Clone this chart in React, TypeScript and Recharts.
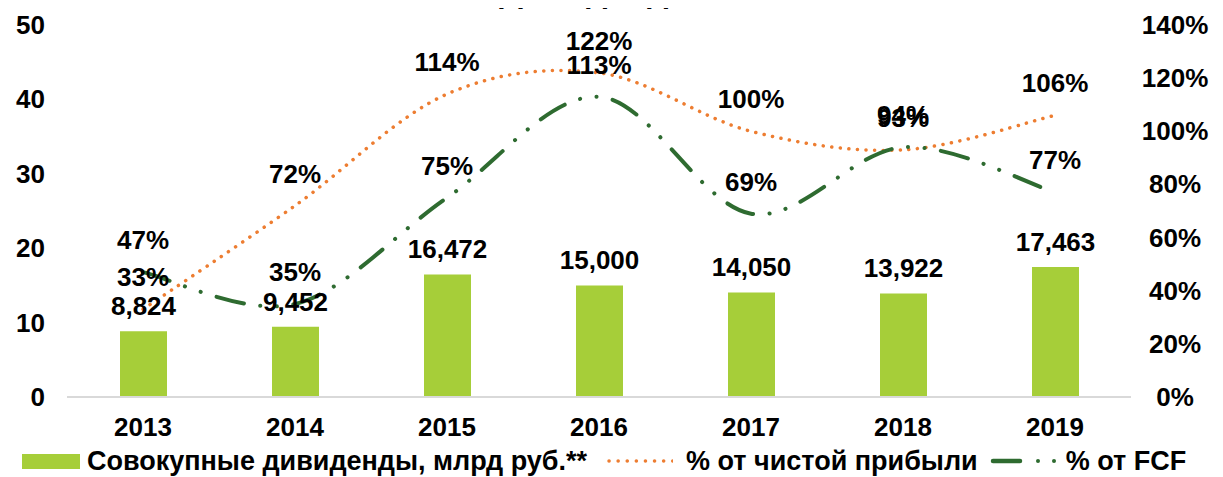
import {
  ComposedChart,
  Bar,
  Line,
  XAxis,
  YAxis,
  LabelList,
  Legend,
} from 'recharts'

const years = ['2013', '2014', '2015', '2016', '2017', '2018', '2019']
// billion rub, shown with a comma as decimal mark
const dividends = [8.824, 9.452, 16.472, 15.0, 14.05, 13.922, 17.463]
const netProfitPct = [33, 72, 114, 122, 100, 93, 106]
const fcfPct = [47, 35, 75, 113, 69, 94, 77]
const leftTicks = [0, 10, 20, 30, 40, 50]
const rightTicks = [0, 20, 40, 60, 80, 100, 120, 140]

const BAR = '#a6ce39'
const ORANGE = '#ed7d31'
const DARK_GREEN = '#2e6b30'
const FONT = "Arial, 'Liberation Sans', sans-serif"
const FS = 26
const FCF_DASH = '28 16.5 0.1 16.5 0.1 16.5'

const data = years.map((year, i) => ({
  year,
  dividends: dividends[i],
  netProfit: netProfitPct[i],
  fcf: fcfPct[i],
}))

const fmtDiv = (v: number) => v.toFixed(3).replace('.', ',')
const fmtPct = (v: number) => `${v}%`

// Excel-like smoothed line (Catmull-Rom turned into cubic beziers)
function curveExcel(context: any) {
  let pts: number[][] = []
  return {
    areaStart() {},
    areaEnd() {},
    lineStart() {
      pts = []
    },
    point(x: number, y: number) {
      pts.push([+x, +y])
    },
    lineEnd() {
      if (!pts.length) return
      context.moveTo(pts[0][0], pts[0][1])
      for (let i = 0; i < pts.length - 1; i++) {
        const p0 = pts[Math.max(i - 1, 0)]
        const p1 = pts[i]
        const p2 = pts[i + 1]
        const p3 = pts[Math.min(i + 2, pts.length - 1)]
        context.bezierCurveTo(
          p1[0] + (p2[0] - p0[0]) / 6,
          p1[1] + (p2[1] - p0[1]) / 6,
          p2[0] - (p3[0] - p1[0]) / 6,
          p2[1] - (p3[1] - p1[1]) / 6,
          p2[0],
          p2[1]
        )
      }
    },
  }
}

function LeftTick({ x, y, payload }: any) {
  return (
    <text x={x} y={y} dy={9} textAnchor="end" fontSize={FS} fontWeight="bold" fill="#000" fontFamily={FONT}>
      {payload.value}
    </text>
  )
}

function RightTick({ x, y, payload }: any) {
  return (
    <text x={x} y={y} dy={9} textAnchor="middle" fontSize={FS} fontWeight="bold" fill="#000" fontFamily={FONT}>
      {payload.value}%
    </text>
  )
}

function LegendContent() {
  const txt = { fontSize: 27, fontWeight: 'bold' as const, color: '#000', fontFamily: FONT, whiteSpace: 'nowrap' as const }
  return (
    <div style={{ height: 40, display: 'flex', alignItems: 'center', paddingTop: 8, boxSizing: 'border-box', paddingLeft: 22 }}>
      <div style={{ width: 58, height: 15, background: BAR, marginRight: 7 }} />
      <span style={txt}>Совокупные дивиденды, млрд руб.**</span>
      <svg width={66} height={10} style={{ marginLeft: 20, marginRight: 13 }}>
        <line x1={2} y1={5} x2={66} y2={5} stroke={ORANGE} strokeWidth={3.5} strokeLinecap="round" strokeDasharray="0.1 9" />
      </svg>
      <span style={txt}>% от чистой прибыли</span>
      <svg width={66} height={10} style={{ marginLeft: 12, marginRight: 10 }}>
        <line x1={3} y1={5} x2={30} y2={5} stroke={DARK_GREEN} strokeWidth={4.5} strokeLinecap="round" />
        <circle cx={48} cy={5} r={2} fill={DARK_GREEN} />
        <circle cx={64} cy={5} r={2} fill={DARK_GREEN} />
      </svg>
      <span style={txt}>% от FCF</span>
    </div>
  )
}

export default function App() {
  return (
    <div style={{ position: 'relative', width: 1223, height: 477, margin: '-8px 0 0 -8px', background: '#fff' }}>
      <svg width={1223} height={20} style={{ position: 'absolute', left: 0, top: 0, zIndex: 2 }}>
        <text x={603} y={2} textAnchor="middle" fontSize={34} fontWeight="bold" fill="#000" fontFamily={FONT}>
          Дивиденды.
        </text>
      </svg>
      <ComposedChart
        width={1223}
        height={477}
        data={data}
        margin={{ top: 25, right: 0, bottom: 0, left: 0 }}
      >
        <XAxis
          dataKey="year"
          height={40}
          tickSize={0}
          tickMargin={21}
          axisLine={{ stroke: '#d9d9d9', strokeWidth: 2 }}
          tick={{ fontSize: FS, fontWeight: 'bold', fill: '#000', fontFamily: FONT }}
        />
        <YAxis
          yAxisId="left"
          width={67}
          domain={[0, 50]}
          ticks={leftTicks}
          tickSize={0}
          tickMargin={22}
          axisLine={false}
          tickLine={false}
          tick={<LeftTick />}
        />
        <YAxis
          yAxisId="right"
          orientation="right"
          width={92}
          domain={[0, 140]}
          ticks={rightTicks}
          tickSize={0}
          tickMargin={44}
          axisLine={false}
          tickLine={false}
          tick={<RightTick />}
        />
        <Legend verticalAlign="bottom" height={40} content={<LegendContent />} />
        <Bar yAxisId="left" dataKey="dividends" barSize={47} fill={BAR} isAnimationActive={false}>
          <LabelList
            dataKey="dividends"
            position="top"
            offset={16}
            formatter={(v: any) => fmtDiv(Number(v))}
            style={{ fontSize: FS, fontWeight: 'bold', fill: '#000', fontFamily: FONT }}
          />
        </Bar>
        <Line
          yAxisId="right"
          type={curveExcel as any}
          dataKey="netProfit"
          stroke={ORANGE}
          strokeWidth={3.5}
          strokeLinecap="round"
          strokeDasharray="0.1 8.5"
          dot={false}
          activeDot={false}
          isAnimationActive={false}
        >
          <LabelList
            dataKey="netProfit"
            position="top"
            offset={23}
            formatter={(v: any) => fmtPct(Number(v))}
            style={{ fontSize: FS, fontWeight: 'bold', fill: '#000', fontFamily: FONT }}
          />
        </Line>
        <Line
          yAxisId="right"
          type={curveExcel as any}
          dataKey="fcf"
          stroke={DARK_GREEN}
          strokeWidth={4}
          strokeLinecap="round"
          strokeDasharray={FCF_DASH}
          dot={false}
          activeDot={false}
          isAnimationActive={false}
        >
          <LabelList
            dataKey="fcf"
            position="top"
            offset={23}
            formatter={(v: any) => fmtPct(Number(v))}
            style={{ fontSize: FS, fontWeight: 'bold', fill: '#000', fontFamily: FONT }}
          />
        </Line>
      </ComposedChart>
    </div>
  )
}
